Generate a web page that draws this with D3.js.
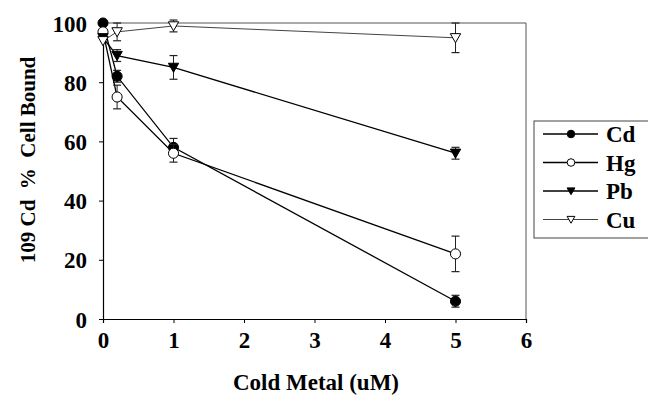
<!DOCTYPE html>
<html>
<head>
<meta charset="utf-8">
<script src="https://cdn.jsdelivr.net/npm/d3@7"></script>
<style>
body { margin: 0; background: #fff; }
svg text { font-family: "Liberation Serif", "Times New Roman", serif; font-weight: bold; }
</style>
</head>
<body>
<script>
// concentrations of cold metal (uM)
var doses = [0, 0.2, 1, 5];

var cdVals = [100, 82, 58, 6];
var cdErr = [0, 2, 3, 2];
var hgVals = [97, 75, 56, 22];
var hgErr = [0, 4, 3, 6];
var pbVals = [95, 89, 85, 56];
var pbErr = [0, 2, 4, 2];
var cuVals = [94, 97, 99, 95];
var cuErr = [0, 3, 2, 5];

var metals = ["Cd", "Hg", "Pb", "Cu"];
var xTicks = [0, 1, 2, 3, 4, 5, 6];
var yTicks = [0, 20, 40, 60, 80, 100];

var series = [
	{name: "Cd", vals: cdVals, err: cdErr, sym: d3.symbolCircle, fill: "#000", color: "#000", lw: 1.3},
	{name: "Hg", vals: hgVals, err: hgErr, sym: d3.symbolCircle, fill: "#fff", color: "#000", lw: 1.3},
	{name: "Pb", vals: pbVals, err: pbErr, sym: "tri", fill: "#000", color: "#000", lw: 1.3},
	{name: "Cu", vals: cuVals, err: cuErr, sym: "tri", fill: "#fff", color: "#444", lw: 1}
];

var width = 648, height = 396;
var svg = d3.select("body").append("svg")
	.attr("width", width)
	.attr("height", height);

var x = d3.scaleLinear().domain([0, 6]).range([103, 526]);
var y = d3.scaleLinear().domain([0, 100]).range([319, 23]);

// frame top + right
svg.append("path")
	.attr("d", "M" + x(0) + "," + y(100) + "H" + x(6) + "V" + y(0))
	.attr("fill", "none").attr("stroke", "#555").attr("stroke-width", 1);

var xAxis = svg.append("g")
	.attr("transform", "translate(0," + y(0) + ")")
	.call(d3.axisBottom(x).tickValues(xTicks).tickSize(4).tickPadding(9).tickFormat(d3.format("d")));
var yAxis = svg.append("g")
	.attr("transform", "translate(" + x(0) + ",0)")
	.call(d3.axisLeft(y).tickValues(yTicks).tickSize(4).tickPadding(12).tickFormat(d3.format("d")));

[xAxis, yAxis].forEach(function(a){
	a.select(".domain").attr("stroke", "#000").attr("stroke-width", 1.2);
	a.selectAll(".tick line").attr("stroke", "#000");
	a.selectAll(".tick text").attr("font-size", 23).attr("fill", "#000")
		.style("font-family", "'Liberation Serif', serif").style("font-weight", "bold");
});
yAxis.selectAll(".tick text").attr("dy", "0.35em");

function tri(size){
	return "M" + (-size) + "," + (-size * 0.8) + "L" + size + "," + (-size * 0.8) + "L0," + (size * 0.95) + "Z";
}
function markerPath(s, k){
	if (s.sym === "tri") return tri(5.2 * k);
	return d3.symbol().type(s.sym).size(80 * k * k)();
}

var line = d3.line()
	.x(function(d){ return x(d[0]); })
	.y(function(d){ return y(d[1]); });

series.forEach(function(s){
	var pts = doses.map(function(d, i){ return [d, s.vals[i], s.err[i]]; });
	var g = svg.append("g");
	g.append("path")
		.attr("d", line(pts))
		.attr("fill", "none")
		.attr("stroke", s.color)
		.attr("stroke-width", s.lw);
	pts.forEach(function(p){
		if (p[2] > 0) {
			var px = x(p[0]);
			g.append("line")
				.attr("x1", px).attr("x2", px)
				.attr("y1", y(p[1] - p[2])).attr("y2", y(p[1] + p[2]))
				.attr("stroke", "#222").attr("stroke-width", 1);
			[p[1] - p[2], p[1] + p[2]].forEach(function(v){
				g.append("line")
					.attr("x1", px - 4).attr("x2", px + 4)
					.attr("y1", y(v)).attr("y2", y(v))
					.attr("stroke", "#222").attr("stroke-width", 1.2);
			});
		}
	});
	g.selectAll(".pt").data(pts).enter().append("path")
		.attr("transform", function(d){ return "translate(" + x(d[0]) + "," + y(d[1]) + ")"; })
		.attr("d", markerPath(s, 1))
		.attr("fill", s.fill)
		.attr("stroke", "#000")
		.attr("stroke-width", 1);
});

// axis titles
svg.append("text")
	.attr("x", 316).attr("y", 390)
	.attr("text-anchor", "middle")
	.attr("font-size", 23)
	.text("Cold Metal (uM)");

svg.append("text")
	.attr("transform", "translate(35,160) rotate(-90)")
	.attr("text-anchor", "middle")
	.attr("font-size", 21)
	.attr("xml:space", "preserve")
	.text("109 Cd  %  Cell Bound");

// legend
var leg = svg.append("g");
leg.append("rect")
	.attr("x", 534).attr("y", 121)
	.attr("width", 130).attr("height", 117)
	.attr("fill", "#fff").attr("stroke", "#444").attr("stroke-width", 1);

series.forEach(function(s, i){
	var ly = 134 + i * 28.5;
	leg.append("line")
		.attr("x1", 543).attr("x2", 598)
		.attr("y1", ly).attr("y2", ly)
		.attr("stroke", s.color).attr("stroke-width", s.lw);
	leg.append("path")
		.attr("transform", "translate(571," + ly + ")")
		.attr("d", markerPath(s, 0.75))
		.attr("fill", s.fill).attr("stroke", "#000").attr("stroke-width", 1);
	leg.append("text")
		.attr("x", 606).attr("y", ly + 8)
		.attr("font-size", 23)
		.text(metals[i]);
});
</script>
</body>
</html>
